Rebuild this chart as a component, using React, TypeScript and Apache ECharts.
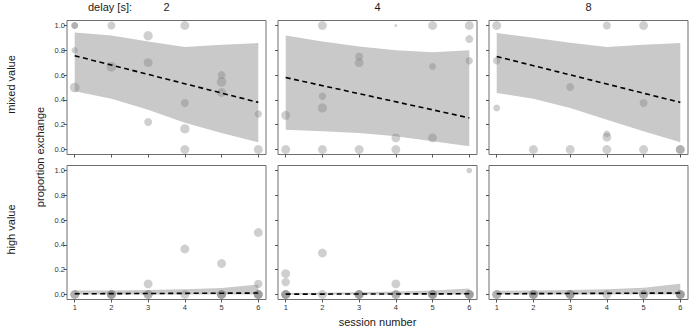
import React, { useEffect, useRef } from "react";
import * as echarts from "echarts";

// Sessions on the x axis and facet labels
const sessions = [1, 2, 3, 4, 5, 6];
const delays = ["2", "4", "8"];
const conditions = ["mixed value", "high value"];
const yTicks = [0, 0.2, 0.4, 0.6, 0.8, 1.0];

// Observations: [session, proportion exchange, number of trials]
type Obs = [number, number, number];

const mixed2: Obs[] = [
  [1, 1.0, 6], [1, 1.0, 6], [1, 0.8, 5], [1, 0.5, 12],
  [2, 1.0, 8], [2, 0.667, 12],
  [3, 0.917, 11], [3, 0.7, 10], [3, 0.222, 8],
  [4, 1.0, 10], [4, 0.375, 8], [4, 0.167, 11], [4, 0.0, 10],
  [5, 0.6, 8], [5, 0.545, 12], [5, 0.46, 10],
  [6, 0.286, 7], [6, 0.0, 10],
];
const mixed4: Obs[] = [
  [1, 0.276, 10], [1, 0.0, 10],
  [2, 1.0, 10], [2, 0.43, 7], [2, 0.335, 11], [2, 0.0, 10],
  [3, 0.75, 8], [3, 0.7, 10], [3, 0.0, 10],
  [4, 1.0, 1], [4, 0.094, 10], [4, 0.0, 10],
  [5, 1.0, 10], [5, 0.67, 6], [5, 0.094, 10],
  [6, 1.0, 10], [6, 0.89, 8], [6, 0.716, 7],
];
const mixed8: Obs[] = [
  [1, 1.0, 10], [1, 0.716, 7], [1, 0.335, 6],
  [2, 0.0, 10],
  [3, 0.504, 8], [3, 0.0, 10],
  [4, 1.0, 8], [4, 0.126, 6], [4, 0.1, 10], [4, 0.0, 10],
  [5, 1.0, 10], [5, 0.375, 8], [5, 0.0, 10],
  [6, 0.0, 10], [6, 0.0, 10],
];
const high2: Obs[] = [
  [1, 0.0, 10], [1, 0.0, 10],
  [2, 0.0, 10], [2, 0.0, 10], [2, 0.0, 10],
  [3, 0.086, 10], [3, 0.0, 10], [3, 0.0, 10],
  [4, 0.367, 10], [4, 0.0, 10],
  [5, 0.25, 10], [5, 0.0, 10], [5, 0.0, 10], [5, 0.0, 10],
  [6, 0.5, 10], [6, 0.086, 9], [6, 0.0, 10], [6, 0.0, 10], [6, 0.0, 10],
];
const high4: Obs[] = [
  [1, 0.169, 10], [1, 0.1, 9], [1, 0.0, 10], [1, 0.0, 10], [1, 0.0, 10],
  [2, 0.335, 10], [2, 0.0, 10],
  [3, 0.0, 10], [3, 0.0, 10], [3, 0.0, 10],
  [4, 0.086, 10], [4, 0.0, 10], [4, 0.0, 10],
  [5, 0.0, 10], [5, 0.0, 10], [5, 0.0, 10],
  [6, 1.0, 4], [6, 0.0, 10], [6, 0.0, 10], [6, 0.0, 10],
];
const high8: Obs[] = [
  [1, 0.0, 10], [1, 0.0, 10],
  [2, 0.0, 10], [2, 0.0, 10], [2, 0.0, 10],
  [3, 0.0, 10], [3, 0.0, 10], [3, 0.0, 10],
  [4, 0.0, 10],
  [5, 0.0, 10], [5, 0.0, 10],
  [6, 0.0, 10], [6, 0.0, 10], [6, 0.0, 10],
];

// Model confidence band (per session) and fitted trend (sessions 1 and 6)
const mixed2Upper = [0.944, 0.92, 0.87, 0.826, 0.845, 0.858];
const mixed2Lower = [0.47, 0.41, 0.32, 0.215, 0.134, 0.059];
const mixed2Fit = [0.756, 0.38];

const mixed4Upper = [0.92, 0.87, 0.83, 0.8, 0.785, 0.8];
const mixed4Lower = [0.16, 0.147, 0.134, 0.107, 0.067, 0.027];
const mixed4Fit = [0.58, 0.255];

const mixed8Upper = [0.94, 0.9, 0.86, 0.826, 0.845, 0.858];
const mixed8Lower = [0.456, 0.41, 0.335, 0.24, 0.147, 0.059];
const mixed8Fit = [0.75, 0.38];

const high2Upper = [0.032, 0.033, 0.036, 0.042, 0.052, 0.08];
const high2Lower = [0.0, 0.0, 0.0, 0.0, 0.0, 0.0];
const high2Fit = [0.006, 0.012];

const high4Upper = [0.012, 0.014, 0.018, 0.024, 0.033, 0.048];
const high4Lower = [0.0, 0.0, 0.0, 0.0, 0.0, 0.0];
const high4Fit = [0.003, 0.006];

const high8Upper = [0.03, 0.032, 0.036, 0.042, 0.055, 0.086];
const high8Lower = [0.0, 0.0, 0.0, 0.0, 0.0, 0.0];
const high8Fit = [0.006, 0.012];

const panels = [
  { obs: mixed2, upper: mixed2Upper, lower: mixed2Lower, fit: mixed2Fit },
  { obs: mixed4, upper: mixed4Upper, lower: mixed4Lower, fit: mixed4Fit },
  { obs: mixed8, upper: mixed8Upper, lower: mixed8Lower, fit: mixed8Fit },
  { obs: high2, upper: high2Upper, lower: high2Lower, fit: high2Fit },
  { obs: high4, upper: high4Upper, lower: high4Lower, fit: high4Fit },
  { obs: high8, upper: high8Upper, lower: high8Lower, fit: high8Fit },
];

const FONT = "'Liberation Sans', Arial, sans-serif";
const LEFTS = [67, 278, 489];
const TOPS = [20.5, 165.5];
const PW = 199;
const PH = 134;

export default function App() {
  const ref = useRef<HTMLDivElement>(null);

  useEffect(() => {
    if (!ref.current) return;
    const chart = echarts.init(ref.current, null, { renderer: "svg" });

    const grids: any[] = [];
    const xAxes: any[] = [];
    const yAxes: any[] = [];
    const series: any[] = [];

    panels.forEach((p, gi) => {
      const row = Math.floor(gi / 3);
      const col = gi % 3;
      grids.push({
        left: LEFTS[col],
        top: TOPS[row],
        width: PW,
        height: PH,
        show: true,
        borderColor: "#6e6e6e",
        borderWidth: 1,
        backgroundColor: "transparent",
      });
      xAxes.push({
        type: "value",
        gridIndex: gi,
        position: "bottom",
        min: 0.79,
        max: 6.21,
        axisLine: { show: false, onZero: false },
        splitLine: { show: false },
        axisTick: {
          show: true,
          length: 3,
          customValues: sessions,
          lineStyle: { color: "#555", width: 1 },
        },
        axisLabel: {
          show: row === 1,
          customValues: sessions,
          fontSize: 7.5,
          color: "#333",
          margin: 4,
          fontFamily: FONT,
        },
      });
      yAxes.push({
        type: "value",
        gridIndex: gi,
        position: "left",
        min: -0.04,
        max: 1.04,
        axisLine: { show: false, onZero: false },
        splitLine: { show: false },
        axisTick: {
          show: true,
          length: 3,
          customValues: yTicks,
          lineStyle: { color: "#555", width: 1 },
        },
        axisLabel: {
          show: col === 0,
          customValues: yTicks,
          formatter: (v: number) => v.toFixed(1),
          fontSize: 7.5,
          color: "#333",
          margin: 2,
          fontFamily: FONT,
        },
      });

      // confidence band
      series.push({
        type: "custom",
        xAxisIndex: gi,
        yAxisIndex: gi,
        z: 1,
        data: [0],
        renderItem: (_params: any, api: any) => {
          const top = sessions.map((s, i) => api.coord([s, p.upper[i]]));
          const bottom = sessions
            .map((s, i) => api.coord([s, p.lower[i]]))
            .reverse();
          return {
            type: "polygon",
            shape: { points: top.concat(bottom) },
            style: { fill: "#c9c9c9", stroke: "none" },
          };
        },
      });

      // observations
      series.push({
        type: "scatter",
        xAxisIndex: gi,
        yAxisIndex: gi,
        z: 2,
        data: p.obs,
        symbol: "circle",
        symbolSize: (val: number[]) => 2.8 * Math.sqrt(val[2]),
        itemStyle: { color: "rgba(128,128,128,0.47)", borderWidth: 0 },
        silent: true,
      });

      // fitted trend
      series.push({
        type: "line",
        xAxisIndex: gi,
        yAxisIndex: gi,
        z: 3,
        data: [
          [sessions[0], p.fit[0]],
          [sessions[sessions.length - 1], p.fit[1]],
        ],
        showSymbol: false,
        symbol: "none",
        lineStyle: { color: "#000", width: 1.6, type: [5, 3.5] },
        silent: true,
      });
    });

    const textStyle = (text: string, size: number) => ({
      text,
      fontSize: size,
      fontFamily: FONT,
      fill: "#1a1a1a",
      textAlign: "center",
      textVerticalAlign: "middle",
    });

    const graphics: any[] = [
      { type: "text", x: 110, y: 7, style: textStyle("delay [s]:", 11) },
      ...delays.map((d, i) => ({
        type: "text",
        x: LEFTS[i] + PW / 2,
        y: 7,
        style: textStyle(d, 11),
      })),
      ...conditions.map((c, i) => ({
        type: "text",
        x: 11,
        y: TOPS[i] + PH / 2 - 3,
        rotation: Math.PI / 2,
        style: textStyle(c, 11),
      })),
      {
        type: "text",
        x: 40,
        y: 157,
        rotation: Math.PI / 2,
        style: textStyle("proportion exchange", 11),
      },
      {
        type: "text",
        x: (LEFTS[0] + LEFTS[2] + PW) / 2,
        y: 322,
        style: textStyle("session number", 11),
      },
    ];

    chart.setOption({
      animation: false,
      backgroundColor: "#fff",
      grid: grids,
      xAxis: xAxes,
      yAxis: yAxes,
      series,
      graphic: graphics,
    });

    return () => chart.dispose();
  }, []);

  return (
    <div
      ref={ref}
      style={{ position: "fixed", left: 0, top: 0, width: 689, height: 328 }}
    />
  );
}
